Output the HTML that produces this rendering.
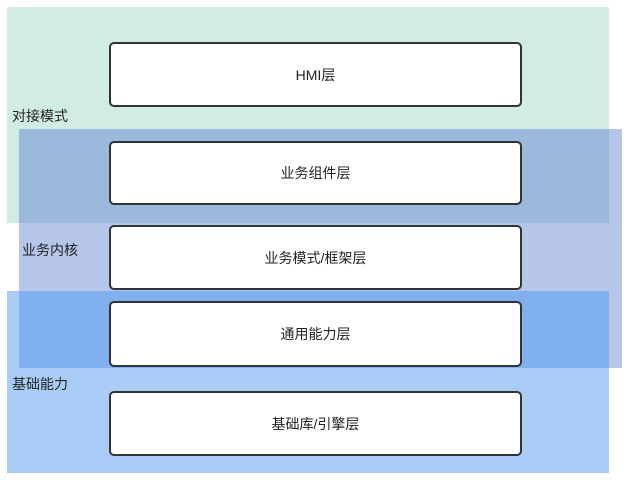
<!DOCTYPE html>
<html><head><meta charset="utf-8"><style>
body{margin:0;width:634px;height:483px;background:#fff;position:relative;overflow:hidden;font-family:"Liberation Sans","Noto Sans CJK SC",sans-serif;color:#222}
.r{position:absolute}
.b{position:absolute;left:109px;width:409px;background:#fff;border:2px solid #333;border-radius:5px;display:flex;align-items:center;justify-content:center;font-size:14px}
.l{position:absolute;font-size:14px}
</style></head><body>
<div class="r" style="left:7px;top:7px;width:602px;height:216px;background:#d1ebe5"></div>
<div class="r" style="left:19px;top:129px;width:603px;height:239px;background:#b6c6e9"></div>
<div class="r" style="left:19px;top:129px;width:590px;height:94px;background:#9bbadb"></div>
<div class="r" style="left:7px;top:291px;width:602px;height:182px;background:#a9cdf7"></div>
<div class="r" style="left:19px;top:291px;width:590px;height:77px;background:#80b1ee"></div>
<div class="b" style="top:42px;height:61px">HMI层</div>
<div class="b" style="top:141px;height:60px">业务组件层</div>
<div class="b" style="top:225px;height:61px">业务模式/框架层</div>
<div class="b" style="top:301px;height:62px">通用能力层</div>
<div class="b" style="top:391px;height:61px">基础库/引擎层</div>
<div class="l" style="left:12px;top:106px">对接模式</div>
<div class="l" style="left:22px;top:240px">业务内核</div>
<div class="l" style="left:12px;top:374px">基础能力</div>
</body></html>
